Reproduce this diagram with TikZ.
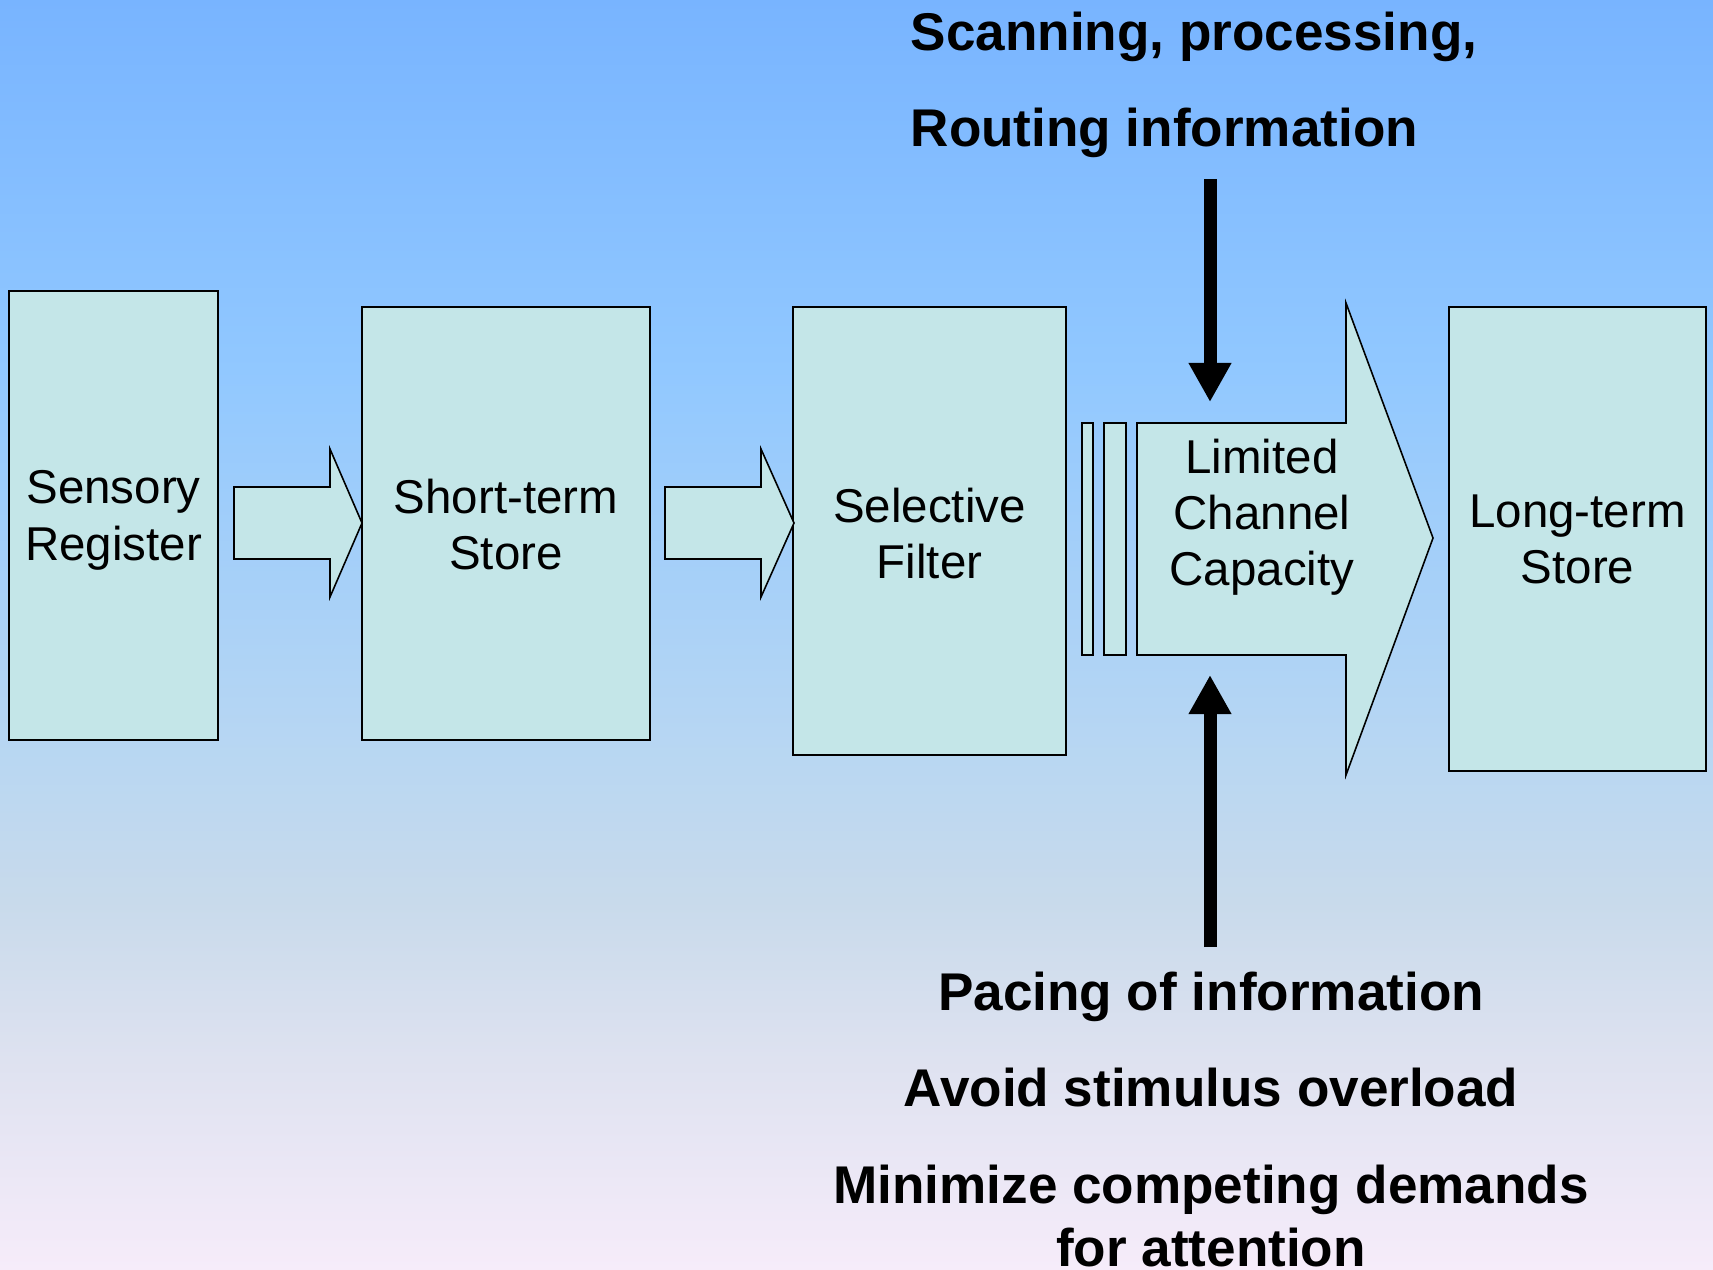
\documentclass[tikz,border=0pt]{standalone}
\usepackage{fontspec}
\setmainfont{Liberation Sans}
\usetikzlibrary{arrows.meta}

\definecolor{boxfill}{RGB}{196,230,232}

% sky-to-lavender backdrop; the path is mapped onto 25bp..75bp
\pgfdeclareverticalshading{backdrop}{100bp}{%
  rgb(0bp)=(0.965,0.925,0.980);
  rgb(25bp)=(0.965,0.925,0.980);
  rgb(33.23bp)=(0.871,0.886,0.941);
  rgb(39.54bp)=(0.784,0.855,0.922);
  rgb(45.06bp)=(0.725,0.843,0.949);
  rgb(60.42bp)=(0.569,0.784,1);
  rgb(75bp)=(0.471,0.706,1);
  rgb(100bp)=(0.471,0.706,1)}

\tikzset{
  stagebox/.style={draw=black, line width=0.65pt, fill=boxfill, rectangle, inner sep=0pt},
  blockarrow/.style={draw=black, line width=0.45pt, fill=boxfill, line join=miter},
  boxtext/.style={inner sep=0pt, align=center, anchor=north,
    font=\fontsize{13.5pt}{16pt}\selectfont},
  note/.style={inner sep=0pt, font=\bfseries\fontsize{15.1pt}{17.9pt}\selectfont},
  pointer/.style={line width=3.7pt, -{Triangle[width=11.4pt,length=11.1pt]}}
}

\begin{document}
\begin{tikzpicture}[x=0.01cm, y=-0.01cm]
  % background gradient
  \shade[shading=backdrop] (0,0) rectangle (1713,1269);
  \useasboundingbox (0,0) rectangle (1713,1269);

  % stage boxes
  \node[stagebox, minimum width=2.09cm, minimum height=4.49cm] (sens) at (113.5,515.5) {};
  \node[stagebox, minimum width=2.88cm, minimum height=4.33cm] (stm)  at (506,523.5) {};
  \node[stagebox, minimum width=2.73cm, minimum height=4.48cm] (sel)  at (929.5,531) {};
  \node[stagebox, minimum width=2.57cm, minimum height=4.64cm] (lts)  at (1577.5,539) {};

  % thin bars in front of the channel
  \node[stagebox, line width=0.5pt, minimum width=0.11cm, minimum height=2.32cm] (bar1) at (1087.5,539) {};
  \node[stagebox, line width=0.5pt, minimum width=0.22cm, minimum height=2.32cm] (bar2) at (1115,539) {};

  % block arrows between stages
  \draw[blockarrow] (234,487) -- (330,487) -- (330,449) -- (362,523)
        -- (330,597) -- (330,559) -- (234,559) -- cycle;
  \draw[blockarrow] (665,487) -- (761,487) -- (761,449) -- (794,523)
        -- (761,597) -- (761,559) -- (665,559) -- cycle;

  % limited channel arrow
  \draw[blockarrow] (1137,423) -- (1346,423) -- (1346,303) -- (1433,538)
        -- (1346,775) -- (1346,655) -- (1137,655) -- cycle;

  % stage labels
  \node[boxtext] (sensT) at (113.5,470) {Sensory\\Register};
  \node[boxtext] (stmT)  at (506,478)   {Short-term\\Store};
  \node[boxtext] (selT)  at (929.5,487) {Selective\\Filter};
  \node[boxtext] (capT)  at (1262,438)  {Limited\\Channel\\Capacity};
  \node[boxtext] (ltsT)  at (1577.5,494) {Long-term\\Store};

  % notes above
  \node[note, anchor=base west] (scan)  at (910,50)  {Scanning, processing,};
  \node[note, anchor=base west] (route) at (910,146) {Routing information};

  % notes below
  \node[note, anchor=base] (pace)  at (1211,1010) {Pacing of information};
  \node[note, anchor=base] (avoid) at (1211,1106) {Avoid stimulus overload};
  \node[note, anchor=north, align=center] (minim) at (1211,1164)
        {Minimize competing demands\\for attention};

  % pointers onto the channel
  \coordinate (downFrom) at (1210,179);
  \coordinate (downTo)   at (1210,402);
  \coordinate (upFrom)   at (1210,947);
  \coordinate (upTo)     at (1210,675);
  \draw[pointer] (downFrom) -- (downTo);
  \draw[pointer] (upFrom) -- (upTo);
\end{tikzpicture}
\end{document}
